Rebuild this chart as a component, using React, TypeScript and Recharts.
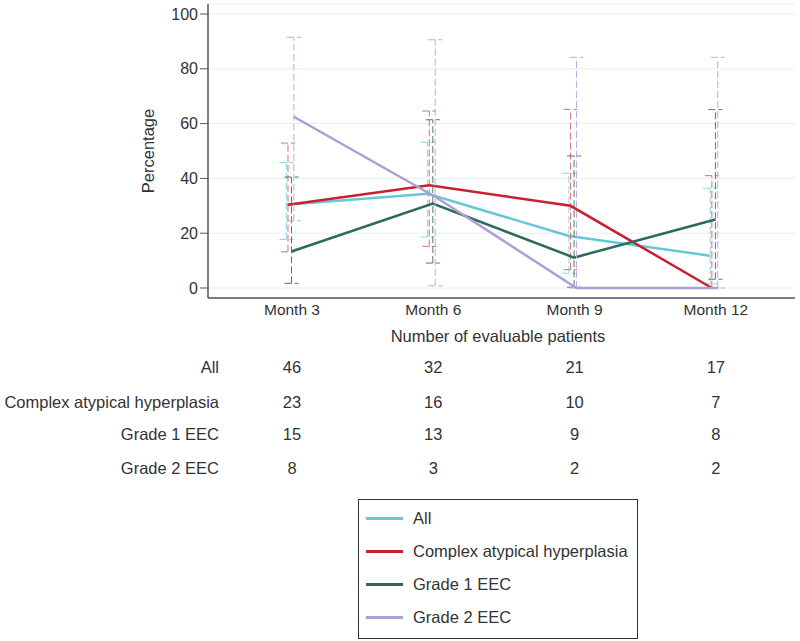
import { LineChart, Line, XAxis, YAxis, CartesianGrid, ErrorBar, Legend } from 'recharts';

// visits and their labels
const months = [3, 6, 9, 12];
const monthLabels = ['Month 3', 'Month 6', 'Month 9', 'Month 12'];
const groupNames = ['All', 'Complex atypical hyperplasia', 'Grade 1 EEC', 'Grade 2 EEC'];

// percentage with 95% CI, per group
const allPct = [30.4, 34.4, 19.0, 11.8];
const allLow = [17.7, 18.6, 5.4, 1.5];
const allHigh = [45.8, 53.2, 41.9, 36.4];

const cahPct = [30.4, 37.5, 30.0, 0];
const cahLow = [13.2, 15.2, 6.7, 0];
const cahHigh = [52.9, 64.6, 65.2, 41.0];

const g1Pct = [13.3, 30.8, 11.1, 25.0];
const g1Low = [1.7, 9.1, 0.3, 3.2];
const g1High = [40.5, 61.4, 48.2, 65.1];

const g2Pct = [62.5, 33.3, 0, 0];
const g2Low = [24.5, 0.8, 0, 0];
const g2High = [91.5, 90.6, 84.2, 84.2];

// number of evaluable patients
const allN = [46, 32, 21, 17];
const cahN = [23, 16, 10, 7];
const g1N = [15, 13, 9, 8];
const g2N = [8, 3, 2, 2];

const yTicks = [0, 20, 40, 60, 80, 100];

const FONT = '"Liberation Sans", Arial, Helvetica, sans-serif';
const TEXT = '#333';
const FS = 16.5;

const series = [
  { name: groupNames[0], pct: allPct, low: allLow, high: allHigh, color: '#63c9da', bar: '#8ad6e3', shift: -0.12 },
  { name: groupNames[1], pct: cahPct, low: cahLow, high: cahHigh, color: '#c8202f', bar: '#dc6e78', shift: -0.085 },
  { name: groupNames[2], pct: g1Pct, low: g1Low, high: g1High, color: '#2d6a5c', bar: '#56776f', shift: -0.01 },
  { name: groupNames[3], pct: g2Pct, low: g2Low, high: g2High, color: '#ab9fd6', bar: '#b7aedd', shift: 0.04 },
];

const counts = [allN, cahN, g1N, g2N];

const seriesData = (s: typeof series[number]) =>
  months.map((m, i) => ({
    x: m + s.shift,
    pct: s.pct[i],
    err: [s.pct[i] - s.low[i], s.high[i] - s.pct[i]],
  }));

const rowOffsets = [69, 104, 136, 170];

function MonthTick(props: any) {
  const { x, y, payload } = props;
  const idx = months.indexOf(payload.value);
  return (
    <g>
      <text x={x} y={y + 11} textAnchor="middle" dominantBaseline="central" fontSize={15.5} fill={TEXT} fontFamily={FONT}>
        {monthLabels[idx]}
      </text>
      {counts.map((c, r) => (
        <text key={r} x={x} y={y + rowOffsets[r]} textAnchor="middle" dominantBaseline="central" fontSize={FS} fill={TEXT} fontFamily={FONT}>
          {c[idx]}
        </text>
      ))}
    </g>
  );
}

function LegendBox() {
  return (
    <div style={{ width: 278, height: 136, border: '1px solid #333', background: '#fff', paddingTop: 2, boxSizing: 'content-box' }}>
      {series.map((s) => (
        <div key={s.name} style={{ display: 'flex', alignItems: 'center', height: 33 }}>
          <div style={{ width: 37, height: 3, background: s.color, marginLeft: 7, marginRight: 10 }} />
          <span style={{ fontSize: FS, color: TEXT, fontFamily: FONT }}>{s.name}</span>
        </div>
      ))}
    </div>
  );
}

export default function App() {
  return (
    <div style={{ position: 'absolute', left: 0, top: 0, width: 800, height: 641, background: '#fff', fontFamily: FONT }}>
      <LineChart width={800} height={641} margin={{ top: 4, right: 5, left: 148, bottom: 313 }}>
        <CartesianGrid horizontal vertical={false} stroke="#e3eef1" />
        <XAxis
          type="number"
          dataKey="x"
          domain={[1.217, 13.68]}
          allowDataOverflow
          ticks={months}
          height={30}
          tickSize={0}
          tickMargin={0}
          tickLine={false}
          axisLine={{ stroke: '#555', strokeWidth: 1.5 }}
          tick={<MonthTick />}
        />
        <YAxis
          type="number"
          domain={[-3.65, 103.65]}
          allowDataOverflow
          ticks={yTicks}
          width={60}
          tickSize={8}
          tickMargin={2}
          tickLine={{ stroke: '#555' }}
          axisLine={{ stroke: '#555', strokeWidth: 1.5 }}
          tick={{ fontSize: 16, fill: TEXT, fontFamily: FONT }}
          label={{ value: 'Percentage', angle: -90, position: 'insideLeft', offset: 0, fontSize: FS, fill: TEXT, fontFamily: FONT, style: { textAnchor: 'middle' } }}
        />
        {series.map((s) => (
          <Line
            key={s.name}
            name={s.name}
            data={seriesData(s)}
            dataKey="pct"
            stroke={s.color}
            strokeWidth={2.5}
            dot={false}
            activeDot={false}
            isAnimationActive={false}
          >
            <ErrorBar dataKey="err" direction="y" width={7} stroke={s.bar} strokeWidth={1} strokeDasharray="7 3" isAnimationActive={false} />
          </Line>
        ))}
        <Legend
          layout="horizontal"
          verticalAlign="middle"
          align="center"
          wrapperStyle={{ left: 358, top: 499, width: 280, height: 140 }}
          content={() => <LegendBox />}
        />
      </LineChart>
      <div style={{ position: 'absolute', left: 298, width: 400, top: 326, textAlign: 'center', fontSize: FS, color: TEXT, lineHeight: '20px' }}>
        Number of evaluable patients
      </div>
      {groupNames.map((g, r) => (
        <div key={g} style={{ position: 'absolute', left: 0, width: 219, top: 298 + rowOffsets[r] - 10, textAlign: 'right', fontSize: FS, color: TEXT, lineHeight: '20px' }}>
          {g}
        </div>
      ))}
    </div>
  );
}
